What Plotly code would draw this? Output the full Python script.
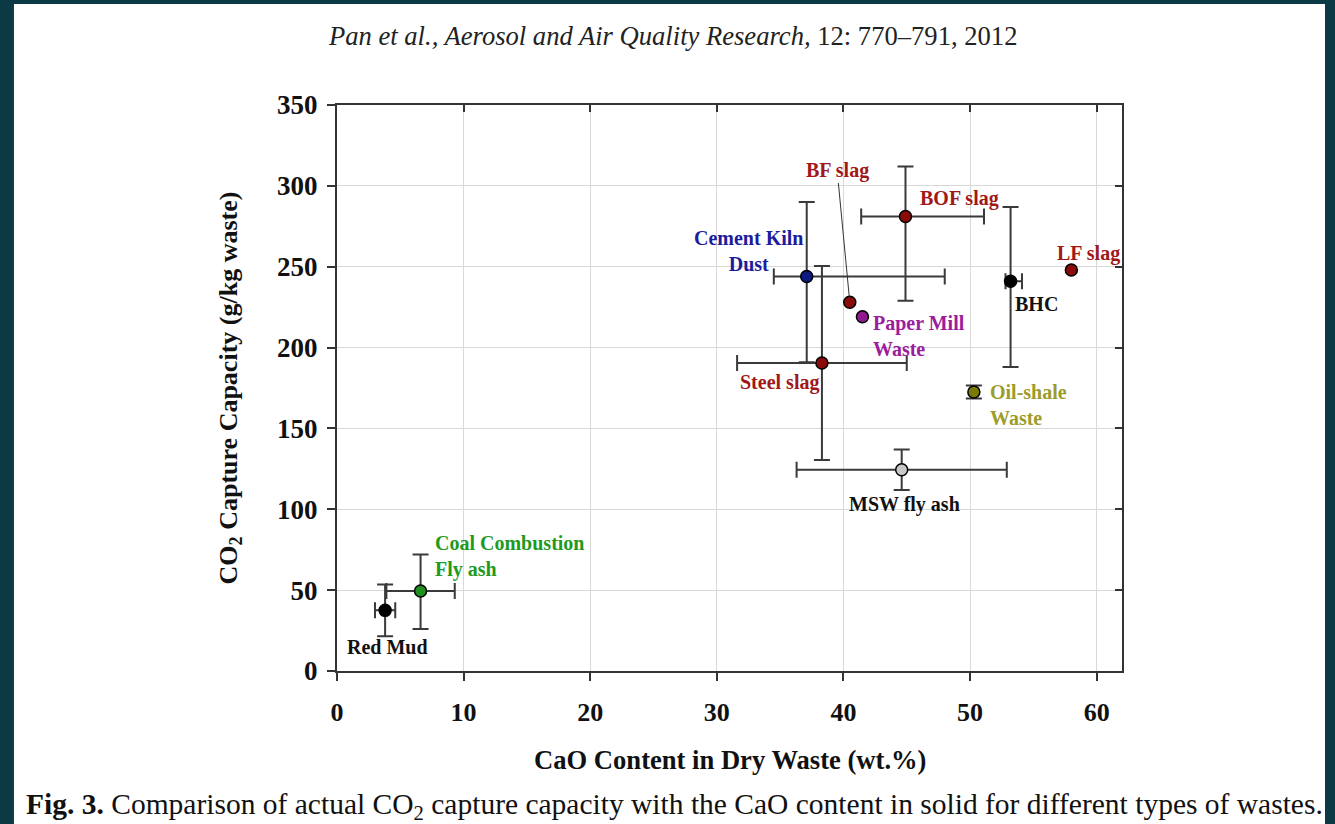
import plotly.graph_objects as go

# CaO content (wt.%) and CO2 capture capacity (g/kg waste) for each waste type
wastes = ["Red Mud", "Coal Combustion Fly ash", "Cement Kiln Dust", "Steel slag",
          "BF slag", "Paper Mill Waste", "BOF slag", "MSW fly ash",
          "Oil-shale Waste", "BHC", "LF slag"]
cao = [3.8, 6.6, 37.1, 38.3, 40.5, 41.5, 44.9, 44.6, 50.3, 53.2, 58.0]
co2 = [37.5, 49.5, 244.0, 190.5, 228.0, 219.0, 281.0, 124.5, 172.5, 241.0, 248.0]

# error bars (None = no bar)
cao_err_plus = [0.8, 2.7, 10.9, 6.7, None, None, 6.2, 8.3, None, 0.9, None]
cao_err_minus = [0.8, 2.7, 2.6, 6.7, None, None, 3.5, 8.3, None, 0.4, None]
co2_err_plus = [16.0, 22.5, 46.0, 60.0, None, None, 31.0, 12.5, 4.0, 46.0, None]
co2_err_minus = [16.0, 23.5, 53.0, 60.0, None, None, 52.0, 12.5, 4.0, 53.0, None]

marker_colors = ["#000000", "#1f8f1f", "#0d1a80", "#8b0a0a", "#8b0a0a", "#8e1a8e",
                 "#8b0a0a", "#c8c8c8", "#7a7a00", "#000000", "#8b0a0a"]

# label text, colour and placement (data coords, anchor)
label_text = ["Red Mud", "Coal Combustion<br>Fly ash", "Cement Kiln<br>Dust", "Steel slag",
              "BF slag", "Paper Mill<br>Waste", "BOF slag", "MSW fly ash",
              "Oil-shale<br>Waste", "BHC", "LF slag"]
label_colors = ["#111111", "#1e9a1e", "#1c1c9c", "#a01818", "#a01818", "#9c1c9c",
                "#a01818", "#111111", "#9c9c2a", "#111111", "#a01818"]
label_x = [4.0, 7.6, 32.5, 38.2, 39.5, 42.2, 45.9, 44.8, 51.4, 53.4, 56.7]
label_y = [14.8, 71.1, 259.8, 178.7, 309.8, 207.2, 291.9, 102.7, 164.5, 227.0, 257.9]
label_xanchor = ["center", "left", "center", "right", "center", "left", "left",
                 "center", "left", "left", "left"]
label_align = ["center", "left", "center", "right", "center", "left", "left",
               "center", "left", "left", "left"]

x_ticks = [0, 10, 20, 30, 40, 50, 60]
y_ticks = [0, 50, 100, 150, 200, 250, 300, 350]

SERIF = "Liberation Serif"
AXIS_COL = "#333333"
ERR_COL = "#3a3a3a"


def bold_font(size):
    return dict(family=SERIF, size=size, color="#111111", weight="bold")


fig = go.Figure()

# error bars first so every marker sits on top of them
for i in range(len(wastes)):
    ex = None
    ey = None
    if cao_err_plus[i] is not None:
        ex = dict(type="data", symmetric=False, array=[cao_err_plus[i]],
                  arrayminus=[cao_err_minus[i]], color=ERR_COL, thickness=2, width=8)
    if co2_err_plus[i] is not None:
        ey = dict(type="data", symmetric=False, array=[co2_err_plus[i]],
                  arrayminus=[co2_err_minus[i]], color=ERR_COL, thickness=2, width=8)
    if ex is None and ey is None:
        continue
    fig.add_trace(go.Scatter(
        x=[cao[i]], y=[co2[i]], mode="markers",
        marker=dict(size=1, color="rgba(0,0,0,0)"),
        error_x=ex, error_y=ey, showlegend=False, hoverinfo="skip"))

fig.add_trace(go.Scatter(
    x=cao, y=co2, mode="markers", text=wastes,
    marker=dict(size=12, color=marker_colors, line=dict(color="#000000", width=1.5)),
    showlegend=False, hovertemplate="%{text}<br>CaO %{x}%<br>CO2 %{y}<extra></extra>"))

# empty trace so the mirrored top/right axes get drawn
fig.add_trace(go.Scatter(x=[None], y=[None], xaxis="x2", yaxis="y2",
                         showlegend=False, hoverinfo="skip"))

for i in range(len(wastes)):
    if wastes[i] == "BF slag":
        fig.add_annotation(
            x=cao[i], y=co2[i], ax=label_x[i], ay=label_y[i],
            xref="x", yref="y", axref="x", ayref="y",
            text=label_text[i], showarrow=True, arrowhead=0, arrowwidth=1,
            arrowcolor="#333333", standoff=6, startstandoff=0,
            font=dict(family=SERIF, size=20, color=label_colors[i], weight="bold"))
    else:
        fig.add_annotation(
            x=label_x[i], y=label_y[i], xref="x", yref="y",
            text=label_text[i], showarrow=False,
            xanchor=label_xanchor[i], yanchor="middle", align=label_align[i],
            font=dict(family=SERIF, size=20, color=label_colors[i], weight="bold"))

# journal header and figure caption
fig.add_annotation(
    x=0.4268, y=1.1219, xref="paper", yref="paper", showarrow=False,
    xanchor="center", yanchor="middle",
    text="<i>Pan et al., Aerosol and Air Quality Research,</i> 12: 770–791, 2012",
    font=dict(family=SERIF, size=26.6, color="#222222"))
fig.add_annotation(
    x=-0.3987, y=-0.2385, xref="paper", yref="paper", showarrow=False,
    xanchor="left", yanchor="middle",
    text="<b>Fig. 3.</b> Comparison of actual CO<sub>2</sub> capture capacity with the "
         "CaO content in solid for different types of wastes.",
    font=dict(family=SERIF, size=29.5, color="#111111"))

# x-axis title
fig.add_annotation(
    x=0.5, y=-0.158, xref="paper", yref="paper", showarrow=False,
    xanchor="center", yanchor="middle",
    text="CaO Content in Dry Waste (wt.%)", font=bold_font(26.6))

# white page on the dark frame
fig.add_shape(type="rect", xref="paper", yref="paper", layer="below",
              x0=-0.4115, x1=1.2586, y0=-0.2703, y1=1.1784,
              fillcolor="#ffffff", line=dict(width=0))

fig.update_layout(
    width=1335, height=824, autosize=False,
    margin=dict(l=337, r=213, t=105, b=153),
    paper_bgcolor="#0b3a44", plot_bgcolor="#ffffff",
    xaxis=dict(range=[0, 62], tickvals=x_ticks, ticktext=[str(v) for v in x_ticks],
               showgrid=True, gridcolor="#d8d8d8", gridwidth=1, zeroline=False,
               showline=True, linecolor=AXIS_COL, linewidth=2,
               ticks="outside", ticklen=8, tickwidth=2, tickcolor=AXIS_COL,
               tickfont=bold_font(26), ticklabelstandoff=9),
    yaxis=dict(range=[0, 350], tickvals=y_ticks, ticktext=[str(v) for v in y_ticks],
               showgrid=True, gridcolor="#d8d8d8", gridwidth=1, zeroline=False,
               showline=True, linecolor=AXIS_COL, linewidth=2,
               ticks="outside", ticklen=8, tickwidth=2, tickcolor=AXIS_COL,
               tickfont=bold_font(27), ticklabelstandoff=4,
               title=dict(text="CO<sub>2</sub> Capture Capacity (g/kg waste)",
                          font=bold_font(26), standoff=32)),
    xaxis2=dict(overlaying="x", side="top", range=[0, 62], tickvals=x_ticks,
                showticklabels=False, showgrid=False, zeroline=False,
                showline=True, linecolor=AXIS_COL, linewidth=2,
                ticks="inside", ticklen=7, tickwidth=2, tickcolor=AXIS_COL),
    yaxis2=dict(overlaying="y", side="right", range=[0, 350], tickvals=y_ticks,
                showticklabels=False, showgrid=False, zeroline=False,
                showline=True, linecolor=AXIS_COL, linewidth=2,
                ticks="inside", ticklen=7, tickwidth=2, tickcolor=AXIS_COL),
)

fig.write_html("out.html")
